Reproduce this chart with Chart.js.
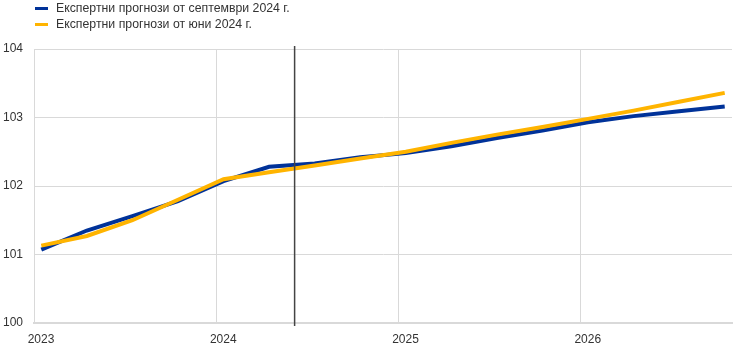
<!DOCTYPE html>
<html>
<head>
<meta charset="utf-8">
<script src="https://cdn.jsdelivr.net/npm/chart.js@4.4.1/dist/chart.umd.min.js"></script>
<style>
    html, body { margin: 0; padding: 0; background: #fff; }
    #wrap { position: relative; width: 742px; height: 350px; }
    #legend { position: absolute; left: 35px; top: 0; font-family: "Liberation Sans", Arial, sans-serif; font-size: 12.3px; color: #333; }
    .item { display: flex; align-items: center; height: 16px; }
    .swatch { width: 13px; height: 3px; margin-right: 8px; }
</style>
</head>
<body>
<div id="wrap">
    <canvas id="chart" width="742" height="350"></canvas>
    <div id="legend"></div>
</div>
<script>
// quarterly points, 2023 Q1 .. 2026 Q4
const quarters = ['2023 Q1', '2023 Q2', '2023 Q3', '2023 Q4',
                  '2024 Q1', '2024 Q2', '2024 Q3', '2024 Q4',
                  '2025 Q1', '2025 Q2', '2025 Q3', '2025 Q4',
                  '2026 Q1', '2026 Q2', '2026 Q3', '2026 Q4'];

const septValues = [101.07, 101.35, 101.56, 101.78, 102.07, 102.28, 102.33, 102.42,
                    102.48, 102.58, 102.70, 102.81, 102.93, 103.02, 103.09, 103.16];
const juneValues = [101.13, 101.27, 101.50, 101.80, 102.10, 102.20, 102.30, 102.40,
                    102.50, 102.63, 102.75, 102.86, 102.98, 103.10, 103.23, 103.36];

const seriesNames = ['Експертни прогнози от септември 2024 г.', 'Експертни прогнози от юни 2024 г.'];
const yearTicks = [2023, 2024, 2025, 2026];
const cutoff = 2024.43;

const BLUE = '#003299';
const YELLOW = '#ffb400';

// quarter label -> position on the time axis (points sit mid-month of the quarter's first month)
function quarterToX(label) {
    const parts = label.split(' Q');
    return Number(parts[0]) + (Number(parts[1]) - 1) / 4 + 0.04;
}

function toPoints(values) {
    return values.map((v, i) => ({x: quarterToX(quarters[i]), y: v}));
}

const cutoffLine = {
    id: 'cutoffLine',
    afterDatasetsDraw(chart) {
        const ctx = chart.ctx;
        const x = chart.scales.x.getPixelForValue(cutoff);
        ctx.save();
        ctx.strokeStyle = '#444';
        ctx.lineWidth = 1.5;
        ctx.beginPath();
        ctx.moveTo(x, chart.chartArea.top - 3);
        ctx.lineTo(x, chart.chartArea.bottom + 3);
        ctx.stroke();
        ctx.restore();
    }
};

const tickFont = {family: '"Liberation Sans", Arial, sans-serif', size: 12};

const chart = new Chart(document.getElementById('chart'), {
    type: 'line',
    data: {
        datasets: [
            {label: seriesNames[0], data: toPoints(septValues), borderColor: BLUE, backgroundColor: BLUE,
             borderWidth: 4, pointRadius: 0, tension: 0, order: 1},
            {label: seriesNames[1], data: toPoints(juneValues), borderColor: YELLOW, backgroundColor: YELLOW,
             borderWidth: 4, pointRadius: 0, tension: 0, order: 0}
        ]
    },
    options: {
        responsive: false,
        animation: false,
        layout: {padding: {top: 49, right: 10, left: 0, bottom: 0}},
        plugins: {legend: {display: false}, tooltip: {enabled: false}},
        scales: {
            x: {
                type: 'linear',
                min: 2023,
                max: 2026.83,
                afterBuildTicks: (scale) => { scale.ticks = yearTicks.map(v => ({value: v})); },
                afterFit: (scale) => { scale.height = 27; },
                grid: {color: '#d9d9d9', drawTicks: false},
                border: {color: '#d9d9d9', width: 2},
                ticks: {
                    font: tickFont, color: '#333', padding: 9, labelOffset: 7,
                    maxRotation: 0, autoSkip: false,
                    callback: (v) => String(v)
                }
            },
            y: {
                min: 100,
                max: 104,
                afterFit: (scale) => { scale.width = 34; },
                grid: {color: '#d9d9d9', drawTicks: false},
                border: {color: '#d9d9d9', width: 1},
                ticks: {font: tickFont, color: '#333', stepSize: 1, padding: 11}
            }
        }
    },
    plugins: [cutoffLine]
});

// legend stacked in two rows, top-left
const legend = document.getElementById('legend');
chart.data.datasets.forEach(ds => {
    const item = document.createElement('div');
    item.className = 'item';
    const sw = document.createElement('span');
    sw.className = 'swatch';
    sw.style.background = ds.borderColor;
    const txt = document.createElement('span');
    txt.textContent = ds.label;
    item.appendChild(sw);
    item.appendChild(txt);
    legend.appendChild(item);
});
</script>
</body>
</html>
